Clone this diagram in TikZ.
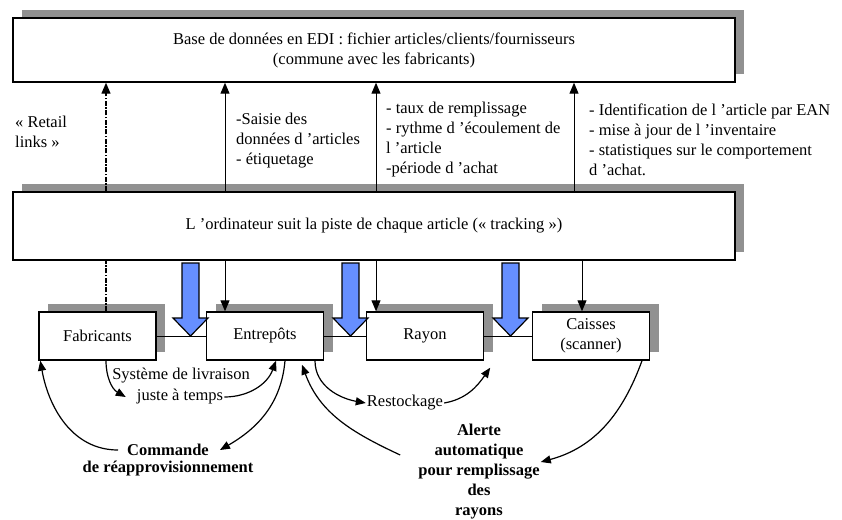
\documentclass[tikz,border=0pt]{standalone}
\usepackage{fontspec}
\setmainfont{Liberation Serif}
\usetikzlibrary{arrows.meta, shadows}

\definecolor{shadowgray}{RGB}{145,145,145}
\definecolor{arrowblue}{RGB}{102,143,255}

\begin{document}
\begin{tikzpicture}[
    x = 1pt, y = -1pt,
    font = \fontsize{16.5}{20}\selectfont,
    > = {Triangle[width=9pt,length=11pt]},
    box/.style = {draw, line width=1.4pt, fill=white, align=center,
      drop shadow={shadow xshift=9pt, shadow yshift=8pt, fill=shadowgray, opacity=1}},
    bigbox/.style = {box, minimum width=722pt, minimum height=64pt},
    smallbox/.style = {box, minimum width=117pt, minimum height=48pt},
    note/.style = {align=left, anchor=west, inner sep=0pt},
    lbl/.style = {inner sep=1pt},
    bold/.style = {inner sep=1pt, align=center, font=\fontsize{16.5}{20}\selectfont\bfseries},
    link/.style = {line width=1pt, ->},
    retail/.style = {line width=1.3pt, dash pattern=on 5pt off 1.5pt on 1.5pt off 1.5pt},
    curve/.style = {line width=1.2pt, -{Triangle[width=8pt,length=10pt]}},
    bluearrow/.style = {draw, line width=1.2pt, fill=arrowblue}
    ]
    \useasboundingbox (0,0) rectangle (842,519);

    % boxes
    \node[bigbox] (edi) at (374,50) {Base de données en EDI : fichier articles/clients/fournisseurs\\(commune avec les fabricants)};
    \node[bigbox, minimum height=68pt] (ordi) at (374,226) {L ’ordinateur suit la piste de chaque article (« tracking »)};
    \node[smallbox] (fab) at (97.5,336) {Fabricants};
    \node[smallbox] (ent) at (265,336) {Entrepôts};
    \node[smallbox] (ray) at (425,336) {Rayon};
    \node[smallbox] (cai) at (591,336) {Caisses\\(scanner)};

    % texts between the two big boxes
    \node[note] (retailtxt) at (15,132) {« Retail\\links »};
    \node[note] (saisie) at (236,141) {-Saisie des\\données d ’articles\\- étiquetage};
    \node[note] (taux) at (386,140) {- taux de remplissage\\- rythme d ’écoulement de\\l ’article\\-période d ’achat};
    \node[note] (ident) at (589,140) {- Identification de l ’article par EAN\\- mise à jour de l ’inventaire\\- statistiques sur le comportement\\d ’achat.};

    % texts below
    \node[lbl] (sys1) at (181,376) {Système de livraison};
    \node[lbl] (sys2) at (180,397) {juste à temps};
    \node[lbl] (restock) at (405,403) {Restockage};
    \node[bold] (cmd1) at (168,450) {Commande};
    \node[bold] (cmd2) at (168,469) {de réapprovisionnement};
    \node[bold] (alerte) at (479,472) {Alerte\\automatique\\pour remplissage\\des\\rayons};

    \coordinate (d0) at (106,0);
    \coordinate (d1) at (225,0);
    \coordinate (d2) at (376,0);
    \coordinate (d3) at (574,0);
    \coordinate (d4) at (582,0);

    % links to the data base
    \draw[link, retail] (ordi.north -| d0) -- (edi.south -| d0);
    \draw[retail] (fab.north -| d0) -- (ordi.south -| d0);
    \foreach \c in {d1,d2,d3}
        \draw[link] (ordi.north -| \c) -- (edi.south -| \c);
    \draw[link] (ordi.south -| d1) -- (ent.north -| d1);
    \draw[link] (ordi.south -| d2) -- (ray.north -| d2);
    \draw[link] (ordi.south -| d4) -- (cai.north -| d4);

    % chain
    \draw[line width=1pt] (fab) -- (ent) (ent) -- (ray) (ray) -- (cai);
    \foreach \x in {190.5,350.5,510.5}
        \draw[bluearrow] (\x-8.5,263) -- ++(17,0) -- ++(0,55) -- ++(9,0)
            -- (\x,336) -- ++(-17.5,-18) -- ++(9,0) -- cycle;

    % flows
    \draw[curve] ([xshift=8.5]fab.south) to[out=270, in=150] ([xshift=-10]sys2.west);
    \draw[curve] (sys2.east) to[out=0, in=250] ([xshift=11]ent.south);
    \draw[curve] ([xshift=20]ent.south) to[out=265, in=30] ([xshift=10]cmd1.east);
    \draw[curve] ([xshift=-8]cmd1.west) to[out=180, in=280] ([xshift=2]fab.south west);
    \draw[curve] ([shift={(-17,-17)}]alerte.west) to[out=155, in=290] ([shift={(37,4)}]ent.south);
    \draw[curve] ([xshift=50]ent.south) to[out=270, in=170] (restock.west);
    \draw[curve] (restock.east) to[out=10, in=235] ([shift={(6,7)}]ray.south east);
    \draw[curve] ([xshift=51]cai.south) to[out=250, in=15] ([shift={(0,-10)}]alerte.east);
\end{tikzpicture}
\end{document}
